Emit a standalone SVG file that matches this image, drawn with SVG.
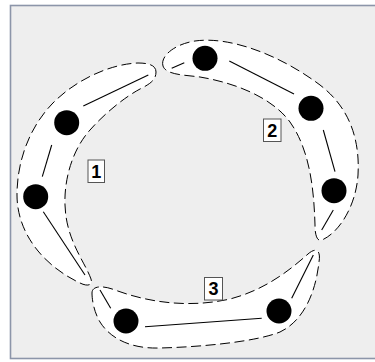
<svg xmlns="http://www.w3.org/2000/svg" width="375" height="362" viewBox="0 0 375 362">
<style>
.frame{fill:#eeeeee;stroke:#8c95a9;stroke-width:1.6}
.hull{fill:#ffffff;stroke:#000;stroke-width:1;stroke-dasharray:10 4.5}
.edge{stroke:#000;stroke-width:1.1;fill:none}
.node{fill:#000}
.lbox{fill:#fff;stroke:#555;stroke-width:1}
.ltxt{font-family:"Liberation Sans",Arial,sans-serif;font-weight:bold;font-size:18px;text-anchor:middle;fill:#000}
</style>
<rect x="0" y="0" width="375" height="362" fill="#ffffff"/>
<rect class="frame" x="10.5" y="5.5" width="380" height="353"/>
<g id="clusters">
<path id="cluster1" class="hull" d="M156,72 C156,65 148,63 138,63 C110,64 75,80 52,104 C30,127 17,160 17,195 C17,232 42,265 80,283 C88,287 93,285 91,279 C85,262 66,240 65,205 C64,180 72,150 90,130 C105,113 125,97 140,89 C150,84 156,80 156,72 Z"/>
<path id="cluster2" class="hull" d="M163,66 C160,56 175,44 195,41 C230,36 280,55 320,85 C350,108 360,140 358,175 C356,205 340,232 322,240 C317,242 315,235 315,225 C314,190 310,150 290,122 C270,95 230,82 200,77 C185,75 166,75 163,66 Z"/>
<path id="cluster3" class="hull" d="M92,293 C92,286 102,285 115,290 C150,303 190,308 230,299 C265,290 290,270 308,254 C316,247 321,250 319,262 C316,290 305,320 280,332 C255,342 200,347 160,348 C130,349 110,338 100,322 C94,312 92,300 92,293 Z"/>
</g>
<g id="connectors">
<line class="edge" x1="148.3" y1="75" x2="83.3" y2="106"/>
<line class="edge" x1="51.7" y1="145" x2="42.3" y2="176.7"/>
<line class="edge" x1="43.3" y1="211.7" x2="85" y2="275"/>
<line class="edge" x1="171.7" y1="68.3" x2="184.3" y2="62.7"/>
<line class="edge" x1="229.3" y1="61" x2="294" y2="94"/>
<line class="edge" x1="323.3" y1="130" x2="335" y2="171.7"/>
<line class="edge" x1="333.3" y1="210" x2="321.7" y2="230"/>
<line class="edge" x1="100" y1="290" x2="110.7" y2="308.3"/>
<line class="edge" x1="145" y1="326.7" x2="261.7" y2="318.3"/>
<line class="edge" x1="291.7" y1="298.3" x2="313.3" y2="255"/>
</g>
<g id="nodeA"><circle class="node" cx="66.7" cy="122.7" r="12.5"/></g>
<g id="nodeB"><circle class="node" cx="35.7" cy="196.7" r="12.5"/></g>
<g id="nodeC"><circle class="node" cx="205" cy="58.3" r="12.5"/></g>
<g id="nodeD"><circle class="node" cx="311" cy="108.3" r="12.5"/></g>
<g id="nodeE"><circle class="node" cx="334" cy="190.7" r="12.5"/></g>
<g id="nodeF"><circle class="node" cx="126" cy="321" r="12.5"/></g>
<g id="nodeG"><circle class="node" cx="279" cy="311" r="12.5"/></g>
<g id="label1"><rect class="lbox" x="88" y="160" width="16.5" height="22.5"/><text class="ltxt" x="96.3" y="177.8">1</text></g>
<g id="label2"><rect class="lbox" x="263.5" y="119" width="17.5" height="22.5"/><text class="ltxt" x="272.3" y="136.8">2</text></g>
<g id="label3"><rect class="lbox" x="204.5" y="277.5" width="18" height="22.5"/><text class="ltxt" x="213.5" y="295.3">3</text></g>
</svg>
